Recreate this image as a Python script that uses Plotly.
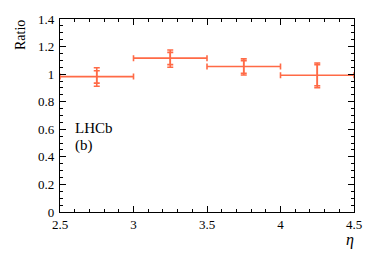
import plotly.graph_objects as go

eta_centers = [2.75, 3.25, 3.75, 4.25]
eta_halfwidth = [0.25, 0.25, 0.25, 0.25]
ratio = [0.982, 1.116, 1.055, 0.992]
stat_up = [0.043, 0.042, 0.042, 0.077]
stat_down = [0.047, 0.047, 0.049, 0.076]
tot_up = [0.064, 0.059, 0.056, 0.089]
tot_down = [0.070, 0.066, 0.061, 0.090]

y_ticks = [0, 0.2, 0.4, 0.6, 0.8, 1.0, 1.2, 1.4]
y_ticklabels = ["0", "0.2", "0.4", "0.6", "0.8", "1", "1.2", "1.4"]
x_ticks = [2.5, 3, 3.5, 4, 4.5]
x_ticklabels = ["2.5", "3", "3.5", "4", "4.5"]

col = "#ff6a46"
font = "Liberation Serif"

fig = go.Figure()
fig.add_trace(go.Scatter(
    x=eta_centers, y=ratio, mode="markers",
    marker=dict(size=1, color=col, opacity=0),
    error_x=dict(type="data", array=eta_halfwidth, color=col, thickness=1.6, width=3),
    error_y=dict(type="data", symmetric=False, array=tot_up, arrayminus=tot_down,
                 color=col, thickness=1.6, width=3),
    showlegend=False, hoverinfo="skip"))
fig.add_trace(go.Scatter(
    x=eta_centers, y=ratio, mode="markers",
    marker=dict(size=1, color=col, opacity=0),
    error_y=dict(type="data", symmetric=False, array=stat_up, arrayminus=stat_down,
                 color=col, thickness=1.6, width=3),
    showlegend=False, hoverinfo="skip"))

axis_common = dict(showgrid=False, zeroline=False, showline=True, linecolor="black",
                   linewidth=1.3, mirror="allticks", ticks="inside", tickcolor="black",
                   tickwidth=1.2, tickfont=dict(family=font, size=13, color="black"))

fig.update_xaxes(range=[2.5, 4.5], tickvals=x_ticks, ticktext=x_ticklabels,
                 ticklen=6,
                 minor=dict(ticks="inside", dtick=0.1, ticklen=3, tickcolor="black", tickwidth=1.2),
                 **axis_common)
fig.update_yaxes(range=[0, 1.4], tickvals=y_ticks, ticktext=y_ticklabels,
                 ticklen=6, ticklabelstandoff=2,
                 minor=dict(ticks="inside", dtick=0.05, ticklen=3, tickcolor="black", tickwidth=1.2),
                 **axis_common)

fig.add_annotation(text="Ratio", xref="paper", yref="paper", x=-0.136, y=1.0,
                   textangle=-90, showarrow=False, xanchor="center", yanchor="top",
                   borderpad=0,
                   font=dict(family=font, size=14, color="black"))
fig.add_annotation(text="<i>η</i>", xref="paper", yref="paper", x=0.986, y=-0.146,
                   showarrow=False, xanchor="center", yanchor="middle",
                   font=dict(family=font, size=16, color="black"))
fig.add_annotation(text="LHCb", xref="paper", yref="paper", x=0.045, y=0.435,
                   showarrow=False, xanchor="left", yanchor="middle",
                   font=dict(family=font, size=15, color="black"))
fig.add_annotation(text="(b)", xref="paper", yref="paper", x=0.045, y=0.347,
                   showarrow=False, xanchor="left", yanchor="middle",
                   font=dict(family=font, size=15, color="black"))

fig.update_layout(width=374, height=253, margin=dict(l=60, r=19, t=13, b=41),
                  plot_bgcolor="white", paper_bgcolor="white")

fig.write_html("out.html", config={"displayModeBar": False},
               post_script="document.body.style.margin='0';document.body.style.overflow='hidden';")
